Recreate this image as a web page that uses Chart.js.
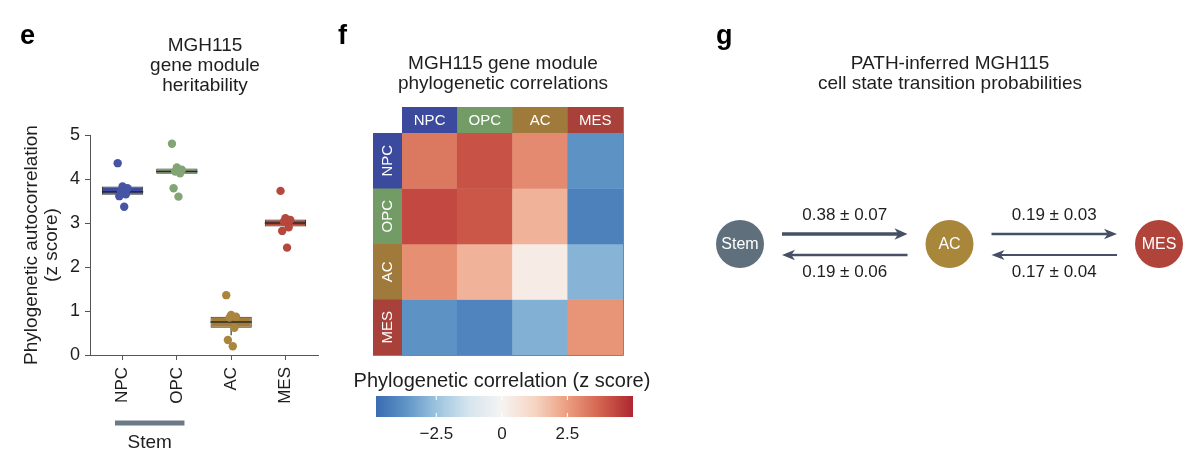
<!DOCTYPE html>
<html><head><meta charset="utf-8">
<script src="https://cdn.jsdelivr.net/npm/chart.js@4.4.1/dist/chart.umd.min.js"></script>
<style>
body{margin:0;background:#fff;}
#wrap{position:relative;width:1200px;height:454px;overflow:hidden;font-family:'Liberation Sans',Arial,sans-serif;color:#1e1e1e;background:#fff;}
canvas{position:absolute;top:0;}
.t{position:absolute;text-align:center;font-size:19px;line-height:20px;white-space:nowrap;transform:translateX(-50%);}
.lab{position:absolute;font-weight:bold;font-size:27px;line-height:27px;color:#000;}
</style></head>
<body><div id="wrap">
<canvas id="ce" width="330" height="454" style="left:0;width:330px;height:454px"></canvas>
<canvas id="cf" width="330" height="454" style="left:330px;width:330px;height:454px"></canvas>
<canvas id="cb" width="330" height="454" style="left:330px;width:330px;height:454px"></canvas>
<canvas id="cg" width="510" height="454" style="left:690px;width:510px;height:454px"></canvas>
<div class="lab" style="left:20px;top:22px">e</div>
<div class="lab" style="left:338px;top:22px">f</div>
<div class="lab" style="left:716px;top:22px">g</div>
<div class="t" style="left:205px;top:35px">MGH115<br>gene module<br>heritability</div>
<div class="t" style="left:503px;top:53px">MGH115 gene module<br>phylogenetic correlations</div>
<div class="t" style="left:950px;top:53px">PATH-inferred MGH115<br>cell state transition probabilities</div>
<div class="t" style="left:502px;top:370px;font-size:20px">Phylogenetic correlation (z score)</div>
</div>
<script>
// ---------- data ----------
const categories = ['NPC', 'OPC', 'AC', 'MES'];
const npcPts = [4.36, 3.83, 3.79, 3.72, 3.65, 3.61, 3.37];
const opcPts = [4.80, 4.26, 4.21, 4.17, 4.13, 3.79, 3.60];
const acPts  = [1.36, 0.91, 0.87, 0.85, 0.62, 0.34, 0.20];
const mesPts = [3.73, 3.11, 3.07, 3.03, 2.90, 2.82, 2.44];
const boxQ1  = [3.64, 4.12, 0.62, 2.92];
const boxQ3  = [3.83, 4.24, 0.87, 3.08];
const boxMed = [3.71, 4.17, 0.75, 3.00];
const whiskLow  = [3.61, 4.13, 0.45, 2.90];
const whiskHigh = [3.83, 4.26, 0.91, 3.11];
const yTicksE = [0, 1, 2, 3, 4, 5];
const stemGroup = ['NPC', 'OPC'];

const corrNPC = [3.3, 4.1, 2.9, -3.7];
const corrOPC = [4.3, 4.0, 2.0, -4.2];
const corrAC  = [2.8, 2.0, 0.35, -2.9];
const corrMES = [-3.7, -4.1, -3.0, 2.7];
const cbMin = -4.8, cbMax = 5.0;
const cbTicks = [-2.5, 0, 2.5];

const nodeNames = ['Stem', 'AC', 'MES'];
const arrowFrom = [0, 1, 1, 2];
const arrowTo   = [1, 0, 2, 1];
const arrowMean = [0.38, 0.19, 0.19, 0.17];
const arrowSd   = [0.07, 0.06, 0.03, 0.04];

// ---------- styles ----------
const FONT = "'Liberation Sans', Arial, sans-serif";
Chart.defaults.font.family = FONT;
Chart.defaults.color = '#1e1e1e';
Chart.defaults.animation = false;
Chart.defaults.plugins.legend.display = false;
Chart.defaults.plugins.tooltip.enabled = false;

const boxColors = ['#3d4a9e', '#7c9d6b', '#a37d38', '#b04434'];
const ptColors  = ['#4654a6', '#82a575', '#aa853d', '#b5483d'];
const headColors = ['#3b4a9c', '#739b66', '#a07a3a', '#a8413a'];
const nodeColors = ['#5f6f7c', '#a8863a', '#b0433a'];
const cmapVals = [-5, -3.75, -2.5, -1.25, 0, 1.25, 2.5, 3.75, 5];
const cmapCols = ['#3565ae', '#5a90c4', '#9cc3df', '#d6e5ef', '#f6f4f2', '#f6d5c3', '#ec9d7f', '#d2634f', '#ae2630'];

function hex2rgb(h){return [1,3,5].map(i=>parseInt(h.substr(i,2),16));}
function cmap(v){
  if (v <= cmapVals[0]) return cmapCols[0];
  for (let i = 1; i < cmapVals.length; i++) {
    if (v <= cmapVals[i]) {
      const t = (v - cmapVals[i-1]) / (cmapVals[i] - cmapVals[i-1]);
      const a = hex2rgb(cmapCols[i-1]), b = hex2rgb(cmapCols[i]);
      const c = a.map((x, k) => Math.round(x + (b[k] - x) * t));
      return `rgb(${c[0]},${c[1]},${c[2]})`;
    }
  }
  return cmapCols[cmapCols.length-1];
}

// ---------- panel e ----------
const allPts = [npcPts, opcPts, acPts, mesPts];
const scatterData = [], scatterColors = [];
allPts.forEach((arr, i) => arr.forEach((v, j) => {
  scatterData.push({x: i + (((j * 3) % 7) - 3) * 0.03, y: v});
  scatterColors.push(ptColors[i]);
}));

const boxPlugin = {
  id: 'boxextras',
  beforeDatasetDraw(chart, args) {
    if (args.index !== 0) return;
    const ctx = chart.ctx, y = chart.scales.y;
    const meta = chart.getDatasetMeta(0);
    ctx.save();
    ctx.strokeStyle = '#3a3a3a'; ctx.lineWidth = 1.2;
    meta.data.forEach((el, i) => {
      ctx.beginPath();
      ctx.moveTo(el.x, y.getPixelForValue(whiskLow[i]));
      ctx.lineTo(el.x, y.getPixelForValue(boxQ1[i]));
      ctx.moveTo(el.x, y.getPixelForValue(boxQ3[i]));
      ctx.lineTo(el.x, y.getPixelForValue(whiskHigh[i]));
      ctx.stroke();
    });
    ctx.restore();
  },
  afterDatasetDraw(chart, args) {
    if (args.index !== 0) return;
    const ctx = chart.ctx, y = chart.scales.y;
    const meta = chart.getDatasetMeta(0);
    ctx.save();
    ctx.strokeStyle = '#2b2b2b'; ctx.lineWidth = 1.6;
    meta.data.forEach((el, i) => {
      const py = y.getPixelForValue(boxMed[i]);
      ctx.beginPath();
      ctx.moveTo(el.x - el.width / 2, py);
      ctx.lineTo(el.x + el.width / 2, py);
      ctx.stroke();
    });
    ctx.restore();
  },
  afterDraw(chart) {
    const ctx = chart.ctx, x = chart.scales.x;
    const i0 = categories.indexOf(stemGroup[0]);
    const i1 = categories.indexOf(stemGroup[stemGroup.length - 1]);
    const xa = x.getPixelForValue(i0 - 0.14), xb = x.getPixelForValue(i1 + 0.14);
    ctx.save();
    ctx.strokeStyle = '#6c7a87'; ctx.lineWidth = 5;
    ctx.beginPath(); ctx.moveTo(xa, 423); ctx.lineTo(xb, 423); ctx.stroke();
    ctx.fillStyle = '#1e1e1e'; ctx.font = '19px ' + FONT;
    ctx.textAlign = 'center'; ctx.textBaseline = 'middle';
    ctx.fillText('Stem', (xa + xb) / 2, 443);
    ctx.restore();
  }
};

new Chart(document.getElementById('ce'), {
  data: {
    datasets: [
      {
        type: 'bar', order: 2,
        data: categories.map((c, i) => ({x: i, y: [boxQ1[i], boxQ3[i]]})),
        backgroundColor: boxColors, borderColor: '#333333', borderWidth: 1,
        borderSkipped: false, barPercentage: 0.76, categoryPercentage: 1
      },
      {
        type: 'scatter', order: 0,
        data: scatterData, pointRadius: 4.2, pointBackgroundColor: scatterColors,
        pointBorderWidth: 0
      }
    ]
  },
  options: {
    responsive: false,
    layout: {padding: {top: 135, right: 12, left: 0, bottom: 0}},
    scales: {
      x: {
        type: 'linear', min: -0.6, max: 3.6, offset: false,
        afterBuildTicks: s => { s.ticks = categories.map((c, i) => ({value: i})); },
        afterFit: s => { s.height = 99; },
        ticks: {
          callback: v => categories[v], minRotation: 90, maxRotation: 90, autoSkip: false,
          font: {size: 17}, color: '#1e1e1e', padding: 7
        },
        grid: {display: true, offset: false, drawOnChartArea: false, tickLength: 5, color: '#555'},
        border: {display: true, color: '#555', width: 1}
      },
      y: {
        type: 'linear', min: 0, max: 5,
        afterBuildTicks: s => { s.ticks = yTicksE.map(v => ({value: v})); },
        afterFit: s => { s.width = 90; },
        ticks: {font: {size: 18}, color: '#1e1e1e', padding: 5},
        grid: {display: true, offset: false, drawOnChartArea: false, tickLength: 5, color: '#555'},
        border: {display: true, color: '#555', width: 1},
        title: {
          display: true, text: ['Phylogenetic autocorrelation', '(z score)'],
          font: {size: 19, lineHeight: 1.05}, color: '#1e1e1e', padding: {top: 22, bottom: 0}
        }
      }
    }
  },
  plugins: [boxPlugin]
});

// ---------- panel f: heatmap ----------
const corrRows = [corrNPC, corrOPC, corrAC, corrMES];
const headerPlugin = {
  id: 'headers',
  afterDraw(chart) {
    const ctx = chart.ctx, x = chart.scales.x, y = chart.scales.y, a = chart.chartArea;
    const half = (x.getPixelForValue(1) - x.getPixelForValue(0)) / 2;
    ctx.save();
    ctx.font = '15px ' + FONT; ctx.textAlign = 'center'; ctx.textBaseline = 'middle';
    categories.forEach((c, i) => {
      const cx = x.getPixelForValue(i);
      ctx.fillStyle = headColors[i];
      ctx.fillRect(cx - half, a.top - 26, half * 2 + 0.5, 26);
      ctx.fillStyle = '#ffffff';
      ctx.fillText(c, cx, a.top - 12.5);
      const y0 = y.getPixelForValue(i), y1 = y.getPixelForValue(i + 1);
      ctx.fillStyle = headColors[i];
      ctx.fillRect(a.left - 29, Math.min(y0, y1), 29, Math.abs(y1 - y0) + 0.5);
      ctx.save();
      ctx.translate(a.left - 14.5, (y0 + y1) / 2);
      ctx.rotate(-Math.PI / 2);
      ctx.fillStyle = '#ffffff';
      ctx.fillText(c, 0, 0);
      ctx.restore();
    });
    ctx.strokeStyle = '#80858c'; ctx.lineWidth = 1;
    ctx.beginPath();
    ctx.moveTo(a.right + 0.5, a.top - 26); ctx.lineTo(a.right + 0.5, a.bottom + 0.5);
    ctx.lineTo(a.left - 29, a.bottom + 0.5);
    ctx.stroke();
    ctx.restore();
  }
};

new Chart(document.getElementById('cf'), {
  type: 'bar',
  data: {
    labels: categories,
    datasets: corrRows.map((row, r) => ({
      label: categories[r],
      data: row.map(() => 1),
      backgroundColor: row.map(v => cmap(v)),
      borderWidth: 0, barPercentage: 1, categoryPercentage: 1
    }))
  },
  options: {
    responsive: false,
    layout: {padding: {left: 72, right: 37, top: 133, bottom: 99}},
    scales: {
      x: {display: false, stacked: true},
      y: {display: false, stacked: true, min: 0, max: 4, reverse: true}
    }
  },
  plugins: [headerPlugin]
});

// ---------- colorbar ----------
const gradPlugin = {
  id: 'grad',
  beforeDatasetsDraw(chart) {
    const ctx = chart.ctx, x = chart.scales.x, a = chart.chartArea;
    const g = ctx.createLinearGradient(a.left, 0, a.right, 0);
    const steps = 60;
    for (let k = 0; k <= steps; k++) {
      const v = cbMin + (cbMax - cbMin) * k / steps;
      g.addColorStop(k / steps, cmap(v));
    }
    ctx.save();
    ctx.fillStyle = g;
    ctx.fillRect(a.left, a.top, a.right - a.left, a.bottom - a.top);
    ctx.strokeStyle = 'rgba(255,255,255,0.9)'; ctx.lineWidth = 1.2;
    cbTicks.forEach(t => {
      const px = x.getPixelForValue(t);
      ctx.beginPath();
      ctx.moveTo(px, a.top); ctx.lineTo(px, a.top + 4);
      ctx.moveTo(px, a.bottom - 4); ctx.lineTo(px, a.bottom);
      ctx.stroke();
    });
    ctx.restore();
  }
};

new Chart(document.getElementById('cb'), {
  type: 'scatter',
  data: {datasets: [{data: []}]},
  options: {
    responsive: false,
    layout: {padding: {left: 46, right: 27, top: 396, bottom: 0}},
    scales: {
      x: {
        type: 'linear', min: cbMin, max: cbMax,
        afterBuildTicks: s => { s.ticks = cbTicks.map(v => ({value: v})); },
        afterFit: s => { s.height = 37; },
        ticks: {
          callback: v => (v < 0 ? '\u2212' + Math.abs(v) : String(v)),
          font: {size: 17}, color: '#1e1e1e', padding: 7, maxRotation: 0
        },
        grid: {display: false, drawTicks: false},
        border: {display: false}
      },
      y: {display: false, min: 0, max: 1}
    }
  },
  plugins: [gradPlugin]
});

// ---------- panel g ----------
const arrowPlugin = {
  id: 'arrows',
  afterDatasetsDraw(chart) {
    const ctx = chart.ctx, x = chart.scales.x, y = chart.scales.y;
    const cy = y.getPixelForValue(0);
    ctx.save();
    arrowFrom.forEach((f, k) => {
      const t = arrowTo[k];
      const x1 = x.getPixelForValue(f), x2 = x.getPixelForValue(t);
      const dir = Math.sign(x2 - x1);
      const yy = cy + (dir > 0 ? -10 : 11);
      const xs = x1 + dir * 42, xe = x2 - dir * 42;
      const lw = 1 + arrowMean[k] * 7;
      const hl = 13, hw = 4 + lw * 0.5;
      ctx.strokeStyle = '#465064'; ctx.fillStyle = '#465064';
      ctx.lineWidth = lw;
      ctx.beginPath(); ctx.moveTo(xs, yy); ctx.lineTo(xe - dir * hl * 0.7, yy); ctx.stroke();
      ctx.beginPath();
      ctx.moveTo(xe, yy);
      ctx.lineTo(xe - dir * hl, yy - hw);
      ctx.lineTo(xe - dir * hl * 0.72, yy);
      ctx.lineTo(xe - dir * hl, yy + hw);
      ctx.closePath(); ctx.fill();
      ctx.fillStyle = '#1e1e1e';
      ctx.font = '17px ' + FONT; ctx.textAlign = 'center'; ctx.textBaseline = 'middle';
      ctx.fillText(arrowMean[k].toFixed(2) + ' \u00b1 ' + arrowSd[k].toFixed(2), (x1 + x2) / 2, cy + (dir > 0 ? -29 : 28));
    });
    const meta = chart.getDatasetMeta(0);
    ctx.fillStyle = '#ffffff'; ctx.font = '16px ' + FONT;
    ctx.textAlign = 'center'; ctx.textBaseline = 'middle';
    meta.data.forEach((el, i) => ctx.fillText(nodeNames[i], el.x, el.y + 1));
    ctx.restore();
  }
};

new Chart(document.getElementById('cg'), {
  type: 'scatter',
  data: {
    datasets: [{
      data: nodeNames.map((n, i) => ({x: i, y: 0})),
      pointRadius: 24, pointBackgroundColor: nodeColors, pointBorderWidth: 0, clip: false
    }]
  },
  options: {
    responsive: false,
    layout: {padding: {left: 50, right: 41, top: 194, bottom: 160}},
    scales: {
      x: {display: false, min: 0, max: 2},
      y: {display: false, min: -1, max: 1}
    }
  },
  plugins: [arrowPlugin]
});
</script>
</body></html>
